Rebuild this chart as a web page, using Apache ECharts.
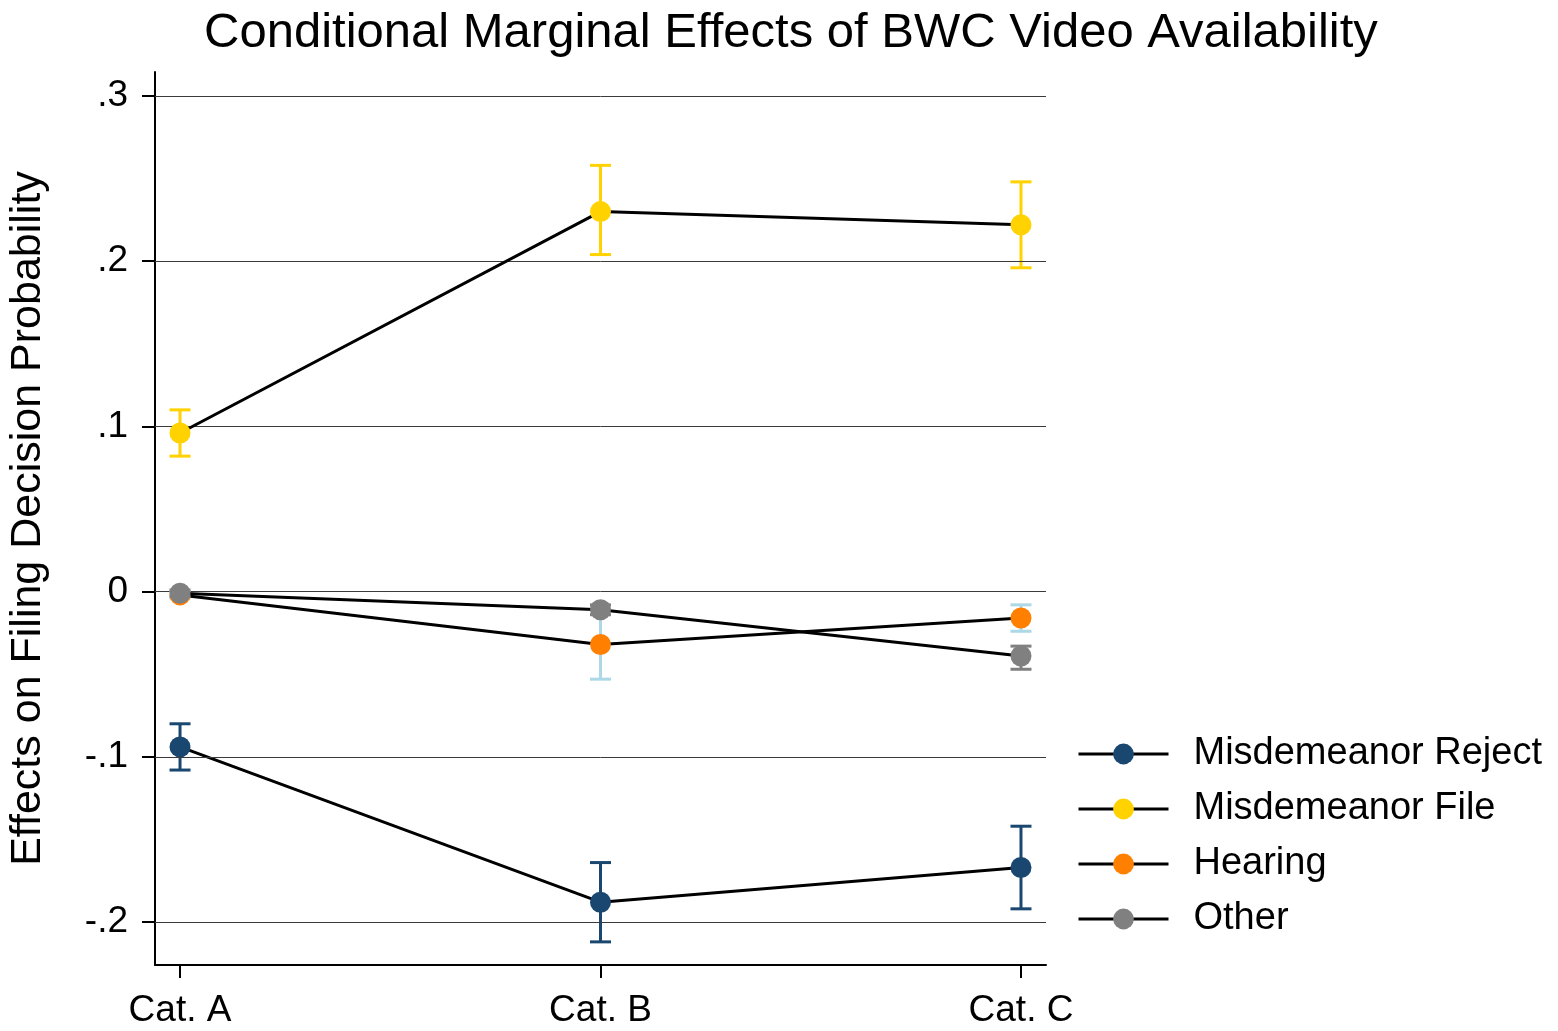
<!DOCTYPE html>
<html>
<head>
<meta charset="utf-8">
<title>Conditional Marginal Effects of BWC Video Availability</title>
<script src="https://cdn.jsdelivr.net/npm/echarts@6/dist/echarts.min.js"></script>
<style>
  html, body { margin: 0; padding: 0; background: #fff; }
  #chart { width: 1558px; height: 1031px; }
</style>
</head>
<body>
<div id="chart"></div>
<script>
// Categories on the horizontal axis (positions 0, 1, 2)
const categories = ['Cat. A', 'Cat. B', 'Cat. C'];

// Vertical tick values and their printed labels
const yTicks = [-0.2, -0.1, 0, 0.1, 0.2, 0.3];
const yTickLabels = ['-.2', '-.1', '0', '.1', '.2', '.3'];

// Series names (legend order)
const seriesNames = ['Misdemeanor Reject', 'Misdemeanor File', 'Hearing', 'Other'];

// Point estimates
const rejectEst  = [-0.094, -0.188, -0.167];
const fileEst    = [ 0.096,  0.230,  0.222];
const hearingEst = [-0.002, -0.032, -0.016];
const otherEst   = [-0.001, -0.011, -0.039];

// Confidence interval bounds
const rejectLo  = [-0.108, -0.212, -0.192];
const rejectHi  = [-0.080, -0.164, -0.142];
const fileLo    = [ 0.082,  0.204,  0.196];
const fileHi    = [ 0.110,  0.258,  0.248];
const hearingLo = [-0.004, -0.053, -0.024];
const hearingHi = [ 0.000, -0.011, -0.008];
const otherLo   = [-0.003, -0.014, -0.047];
const otherHi   = [ 0.001, -0.008, -0.033];

const markerColors = ['#1a476f', '#ffd200', '#ff7f00', '#808080'];
const barColors    = ['#1a476f', '#ffd200', '#add8e6', '#808080'];

const estimates = [rejectEst, fileEst, hearingEst, otherEst];
const lows  = [rejectLo, fileLo, hearingLo, otherLo];
const highs = [rejectHi, fileHi, hearingHi, otherHi];

const FONT = '"Liberation Sans", Arial, Helvetica, sans-serif';

function capBarSeries(idx) {
  const data = categories.map((c, i) => [i, lows[idx][i], highs[idx][i]]);
  return {
    type: 'custom',
    name: seriesNames[idx] + ' CI',
    silent: true,
    z: 2 + idx * 2,
    data: data,
    encode: { x: 0, y: [1, 2] },
    renderItem: function (params, api) {
      const x = api.value(0);
      const lo = api.coord([x, api.value(1)]);
      const hi = api.coord([x, api.value(2)]);
      const half = 10.5;
      const style = { stroke: barColors[idx], lineWidth: 3, fill: null };
      return {
        type: 'group',
        children: [
          { type: 'line', shape: { x1: lo[0], y1: lo[1], x2: hi[0], y2: hi[1] }, style: style },
          { type: 'line', shape: { x1: lo[0] - half, y1: lo[1], x2: lo[0] + half, y2: lo[1] }, style: style },
          { type: 'line', shape: { x1: hi[0] - half, y1: hi[1], x2: hi[0] + half, y2: hi[1] }, style: style }
        ]
      };
    }
  };
}

function lineSeries(idx) {
  return {
    type: 'line',
    name: seriesNames[idx],
    z: 3 + idx * 2,
    data: categories.map((c, i) => [i, estimates[idx][i]]),
    symbol: 'circle',
    symbolSize: 21,
    showSymbol: true,
    animation: false,
    lineStyle: { color: '#000', width: 3 },
    itemStyle: { color: markerColors[idx], borderWidth: 0 },
    emphasis: { disabled: true }
  };
}

// Horizontal reference lines at each labelled tick
const gridSeries = {
  type: 'line',
  name: 'grid',
  data: [],
  z: 1,
  silent: true,
  markLine: {
    silent: true,
    symbol: ['none', 'none'],
    label: { show: false },
    lineStyle: { color: '#3a3a3a', width: 1, type: 'solid' },
    animation: false,
    data: yTicks.map(v => ({ yAxis: v }))
  }
};

const series = [gridSeries];
for (let i = 0; i < seriesNames.length; i++) {
  series.push(capBarSeries(i));
  series.push(lineSeries(i));
}

const chart = echarts.init(document.getElementById('chart'), null, { renderer: 'canvas' });
chart.setOption({
  animation: false,
  backgroundColor: '#fff',
  textStyle: { fontFamily: FONT },
  title: {
    text: 'Conditional Marginal Effects of BWC Video Availability',
    left: 204,
    top: 9,
    padding: 0,
    textStyle: { fontFamily: FONT, fontSize: 49, fontWeight: 'normal', color: '#000' }
  },
  grid: { left: 155, top: 72, width: 891, height: 893, containLabel: false, outerBoundsMode: 'none' },
  legend: {
    orient: 'vertical',
    left: 1077,
    top: 735,
    padding: 0,
    itemWidth: 90,
    itemHeight: 26,
    itemGap: 17,
    data: seriesNames,
    selectedMode: false,
    lineStyle: { width: 3, color: '#000' },
    textStyle: { fontFamily: FONT, fontSize: 38, color: '#000', padding: [0, 0, 0, 20] }
  },
  xAxis: {
    type: 'value',
    min: -0.0595,
    max: 2.0595,
    splitLine: { show: false },
    axisLine: { show: true, onZero: false, lineStyle: { color: '#000', width: 2 } },
    axisTick: { show: true, length: 13, customValues: [0, 1, 2], lineStyle: { color: '#000', width: 2 } },
    axisLabel: {
      show: true,
      customValues: [0, 1, 2],
      margin: 27,
      fontFamily: FONT,
      fontSize: 37,
      color: '#000',
      formatter: v => categories[Math.round(v)]
    }
  },
  yAxis: {
    type: 'value',
    min: -0.226,
    max: 0.3145,
    name: 'Effects on Filing Decision Probability',
    nameLocation: 'middle',
    nameGap: 105,
    nameTextStyle: { fontFamily: FONT, fontSize: 43, color: '#000' },
    splitLine: { show: false },
    axisLine: { show: true, onZero: false, lineStyle: { color: '#000', width: 2 } },
    axisTick: { show: true, length: 13, customValues: yTicks, lineStyle: { color: '#000', width: 2 } },
    axisLabel: {
      show: true,
      customValues: yTicks,
      margin: 27,
      fontFamily: FONT,
      fontSize: 37,
      color: '#000',
      formatter: v => {
        const k = yTicks.findIndex(t => Math.abs(t - v) < 1e-9);
        return k >= 0 ? yTickLabels[k] : '';
      }
    }
  },
  series: series
});
</script>
</body>
</html>
